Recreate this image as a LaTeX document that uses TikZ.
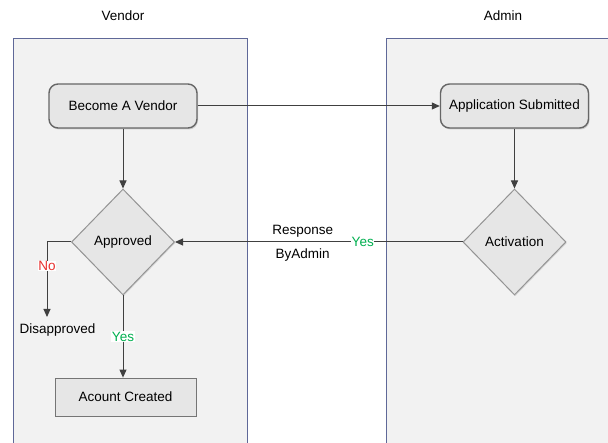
\documentclass[tikz,border=0pt]{standalone}
\usepackage{fontspec}
\setmainfont{Liberation Sans}
\usetikzlibrary{shapes.geometric,arrows.meta,shadows}
\definecolor{lanefill}{HTML}{F2F2F2}
\definecolor{laneline}{HTML}{5F6898}
\definecolor{nodefill}{HTML}{E6E6E6}
\definecolor{nodeline}{HTML}{666666}
\definecolor{wire}{HTML}{404040}
\definecolor{yesgreen}{HTML}{00B050}
\definecolor{nored}{HTML}{E8302E}
\tikzset{
  txt/.style={font=\fontsize{13.5}{16}\selectfont},
  lane/.style={fill=lanefill, draw=laneline, line width=1pt},
  proc/.style={txt, draw=nodeline, fill=nodefill, line width=1.4pt,
    rounded corners=9pt, minimum width=148pt, minimum height=44pt, inner sep=0pt,
    drop shadow={opacity=0.3, shadow xshift=1pt, shadow yshift=-1.5pt}},
  dec/.style={txt, diamond, draw=nodeline!70, fill=nodefill, line width=1pt,
    minimum width=103pt, minimum height=106pt, inner sep=0pt,
    drop shadow={opacity=0.25, shadow xshift=0.8pt, shadow yshift=-1.2pt}},
  plainbox/.style={txt, draw=nodeline!90, fill=nodefill, line width=0.8pt,
    minimum width=141pt, minimum height=38pt, inner sep=0pt},
  arrow/.style={draw=wire, line width=1pt, -{Triangle[length=8pt,width=7pt]}},
  yeslbl/.style={txt, text=yesgreen, fill=white, inner sep=0.5pt},
  nolbl/.style={txt, text=nored, fill=white, inner sep=0.5pt},
}
\begin{document}
\begin{tikzpicture}[x=1pt, y=-1pt]
  \useasboundingbox (0,0) rectangle (608,443);
  \fill[white] (0,0) rectangle (608,443);
  \clip (0,0) rectangle (608,443);

  % swim lanes
  \draw[lane] (13,460) -- (13,39) -- (247,39) -- (247,460);
  \draw[lane] (386,460) -- (386,39) -- (620,39) -- (620,460);
  \node[txt] (vendorhead) at (123,16) {Vendor};
  \node[txt] (adminhead) at (503,16) {Admin};

  % steps
  \node[proc] (become) at (123,106) {Become A Vendor};
  \node[proc] (app) at (514.5,106) {Application Submitted};
  \node[dec] (approved) at (123,242) {Approved};
  \node[dec] (activation) at (514.5,242) {Activation};
  \node[plainbox] (account) at (125.5,397) {Acount Created};
  \node[txt, anchor=north] (disapproved) at (57.5,320) {Disapproved};
  \coordinate (noend) at (47,317);

  % connectors
  \draw[arrow] (become) -- (app);
  \draw[arrow] (become) -- (approved);
  \draw[arrow] (app) -- (activation);
  \draw[arrow] (activation.west) -- node[pos=0.347, yeslbl] {Yes}
    node[pos=0.556, above=1pt, txt] {Response}
    node[pos=0.556, below=3pt, txt] {ByAdmin} (approved.east);
  \draw[arrow] (approved.west) -| node[pos=0.66, nolbl] {No} (noend);
  \draw[arrow] (approved.south) -- node[pos=0.5, yeslbl] {Yes}
    (approved.south |- account.north);
\end{tikzpicture}
\end{document}
